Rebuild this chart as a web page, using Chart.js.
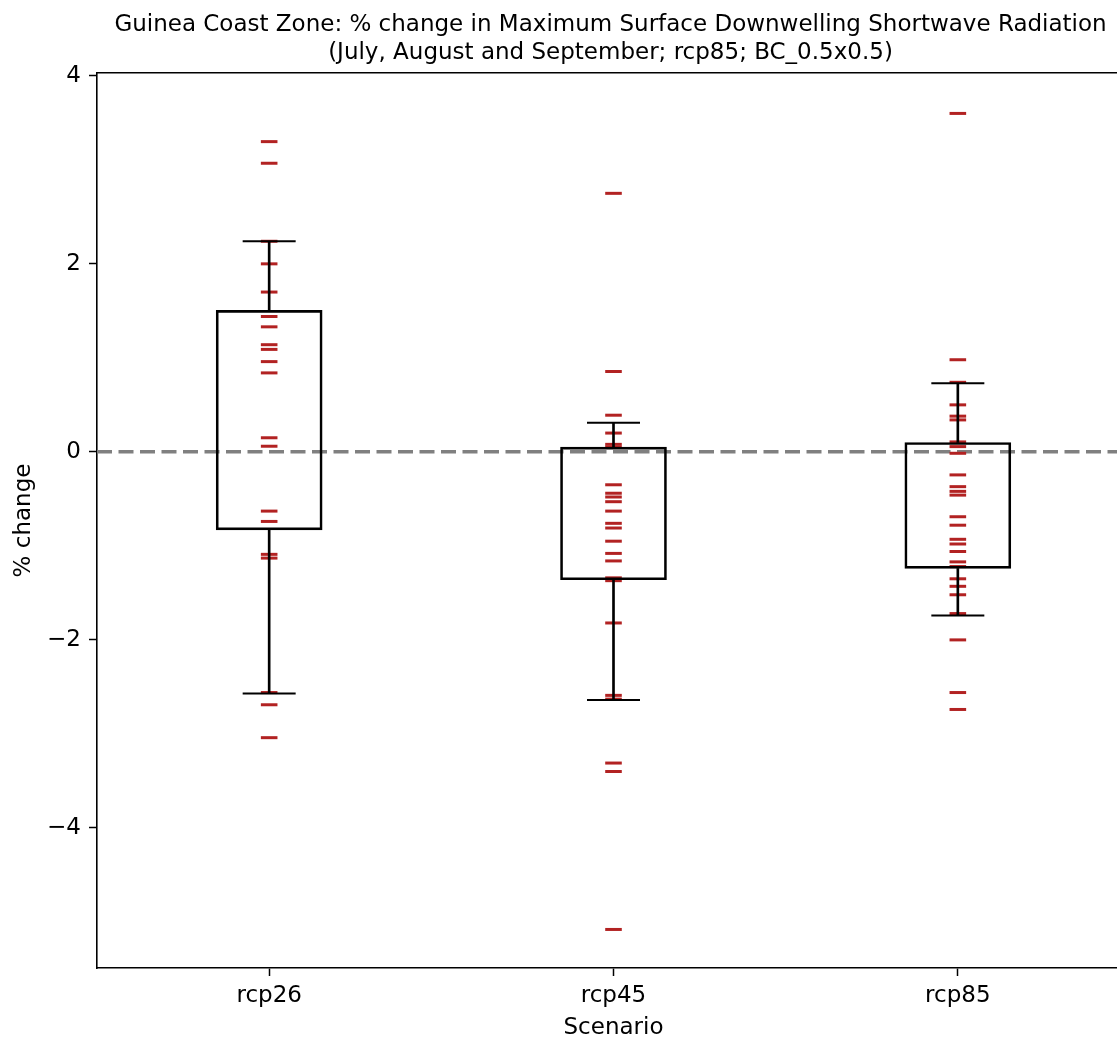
<!DOCTYPE html>
<html>
<head>
<meta charset="utf-8">
<script src="https://cdn.jsdelivr.net/npm/chart.js@4.4.1/dist/chart.umd.min.js"></script>
<style>
  html, body { margin: 0; padding: 0; background: #ffffff; overflow: hidden; }
  #wrap { width: 1117px; height: 1039px; overflow: hidden; position: relative; }
  canvas { display: block; }
</style>
</head>
<body>
<div id="wrap"><canvas id="c" width="1221" height="1039"></canvas></div>
<script>
// ---- Data ----
const categories = ['rcp26', 'rcp45', 'rcp85'];

const rcp26Values = [3.30, 3.07, 2.24, 2.00, 1.70, 1.44, 1.33, 1.14, 1.09, 0.96, 0.84,
  0.15, 0.06, -0.63, -0.74, -1.09, -1.13, -2.56, -2.69, -3.04];
const rcp45Values = [2.75, 0.855, 0.39, 0.20, 0.08, 0.05, -0.35, -0.44, -0.48, -0.53,
  -0.63, -0.76, -0.81, -0.95, -1.08, -1.16, -1.34, -1.37, -1.82, -2.59, -2.63, -3.31, -3.40, -5.08];
const rcp85Values = [3.60, 0.98, 0.74, 0.50, 0.38, 0.34, 0.106, 0.056, -0.015, -0.245,
  -0.37, -0.42, -0.46, -0.69, -0.78, -0.93, -0.98, -1.06, -1.17, -1.22, -1.35, -1.43,
  -1.52, -1.72, -2.00, -2.56, -2.74];

const boxQ1 = [-0.83, -1.36, -1.24];
const boxQ3 = [1.505, 0.05, 0.10];
const whiskerLow = [-2.57, -2.64, -1.74];
const whiskerHigh = [2.24, 0.31, 0.73];

const yTickValues = [-4, -2, 0, 2, 4];
const referenceValue = 0;

const titleLines = [
  'Guinea Coast Zone: % change in Maximum Surface Downwelling Shortwave Radiation',
  '(July, August and September; rcp85; BC_0.5x0.5)'
];
const xAxisTitle = 'Scenario';
const yAxisTitle = '% change';

// ---- Build datasets ----
const seriesValues = [rcp26Values, rcp45Values, rcp85Values];
const xMin = 0.5, xMax = categories.length + 0.5;

const pointData = [];
seriesValues.forEach((vals, i) => vals.forEach(v => pointData.push({ x: i + 1, y: v })));

const boxData = categories.map((c, i) => ({ x: i + 1, y: [boxQ1[i], boxQ3[i]] }));
const upperStem = categories.map((c, i) => ({ x: i + 1, y: [boxQ3[i], whiskerHigh[i]] }));
const lowerStem = categories.map((c, i) => ({ x: i + 1, y: [whiskerLow[i], boxQ1[i]] }));
const capData = [];
categories.forEach((c, i) => {
  capData.push({ x: i + 1, y: whiskerLow[i] });
  capData.push({ x: i + 1, y: whiskerHigh[i] });
});

const FONT = 'DejaVu Sans';
const FS = 23;

new Chart(document.getElementById('c'), {
  type: 'bar',
  data: {
    datasets: [
      {
        type: 'line',
        data: [{ x: xMin, y: referenceValue }, { x: xMax, y: referenceValue }],
        borderColor: '#808080',
        borderWidth: 3.5,
        borderDash: [15, 6.5],
        pointRadius: 0,
        fill: false,
        order: 5
      },
      {
        type: 'scatter',
        data: pointData,
        pointStyle: 'line',
        pointRadius: 8.3,
        borderWidth: 3,
        borderColor: '#b22222',
        backgroundColor: '#b22222',
        order: 4
      },
      {
        type: 'bar',
        data: lowerStem,
        backgroundColor: '#000000',
        borderWidth: 0,
        barThickness: 2,
        grouped: false,
        order: 3
      },
      {
        type: 'bar',
        data: upperStem,
        backgroundColor: '#000000',
        borderWidth: 0,
        barThickness: 2,
        grouped: false,
        order: 3
      },
      {
        type: 'bar',
        data: boxData,
        backgroundColor: 'rgba(0,0,0,0)',
        borderColor: '#000000',
        borderWidth: 2,
        borderSkipped: false,
        barThickness: 106,
        grouped: false,
        order: 2
      },
      {
        type: 'scatter',
        data: capData,
        pointStyle: 'line',
        pointRadius: 26.5,
        borderWidth: 2,
        borderColor: '#000000',
        order: 1
      }
    ]
  },
  options: {
    responsive: false,
    animation: false,
    events: [],
    layout: { padding: 0 },
    plugins: {
      legend: { display: false },
      tooltip: { enabled: false },
      title: {
        display: true,
        text: titleLines,
        color: '#000000',
        font: { family: FONT, size: FS, weight: 'normal', lineHeight: 1.2 },
        padding: { top: 11.5, bottom: 6.3 }
      }
    },
    scales: {
      x: {
        type: 'linear',
        position: 'bottom',
        offset: false,
        min: xMin,
        max: xMax,
        afterBuildTicks: (s) => { s.ticks = categories.map((c, i) => ({ value: i + 1 })); },
        afterFit: (s) => { s.height = 71; },
        ticks: {
          color: '#000000',
          font: { family: FONT, size: FS },
          padding: 6,
          maxRotation: 0,
          autoSkip: false,
          callback: (v) => categories[Math.round(v) - 1]
        },
        grid: { display: true, offset: false, drawOnChartArea: false, drawTicks: true, tickLength: 8, tickColor: '#000000', tickWidth: 1.5 },
        border: { display: true, color: '#000000', width: 1.6 },
        title: { display: true, text: xAxisTitle, color: '#000000', font: { family: FONT, size: FS }, padding: { top: 0, bottom: -3 } }
      },
      xTop: {
        type: 'linear',
        position: 'top',
        offset: false,
        min: 0, max: 1,
        afterFit: (s) => { s.height = 0; },
        ticks: { display: false },
        grid: { display: false, drawTicks: false },
        border: { display: true, color: '#000000', width: 1.6 }
      },
      y: {
        type: 'linear',
        position: 'left',
        min: -5.49,
        max: 4.03,
        afterBuildTicks: (s) => { s.ticks = yTickValues.map(v => ({ value: v })); },
        afterFit: (s) => { s.width = 97; },
        ticks: {
          color: '#000000',
          font: { family: FONT, size: FS },
          padding: 8,
          callback: (v) => String(v).replace('-', '\u2212')
        },
        grid: { display: true, drawOnChartArea: false, drawTicks: true, tickLength: 8, tickColor: '#000000', tickWidth: 1.5 },
        border: { display: true, color: '#000000', width: 1.6 },
        title: { display: true, text: yAxisTitle, color: '#000000', font: { family: FONT, size: FS }, padding: { top: 10, bottom: 0 } }
      },
      yRight: {
        type: 'linear',
        position: 'right',
        min: 0, max: 1,
        afterFit: (s) => { s.width = 91; },
        ticks: { display: false },
        grid: { display: false, drawTicks: false },
        border: { display: true, color: '#000000', width: 1.6 }
      }
    }
  }
});
</script>
</body>
</html>
